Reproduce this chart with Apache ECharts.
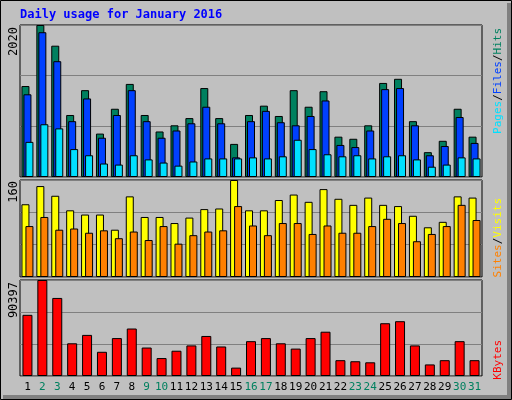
<!DOCTYPE html>
<html><head><meta charset="utf-8">
<script src="https://cdn.jsdelivr.net/npm/echarts@6/dist/echarts.min.js"></script>
<style>html,body{margin:0;padding:0;background:#fff}#c{width:512px;height:400px}</style>
</head><body><div id="c"></div>
<script>
const days = ['1','2','3','4','5','6','7','8','9','10','11','12','13','14','15','16','17','18','19','20','21','22','23','24','25','26','27','28','29','30','31'];
const weekend = ['2','3','9','10','16','17','23','24','30','31'];
const hits  = [1209,2020,1745,824,1154,577,907,1237,824,605,687,783,1182,783,440,824,948,811,1154,934,1140,536,508,687,1250,1305,742,330,481,907,536];
const files = [1099,1924,1539,742,1044,522,824,1154,742,522,618,714,934,714,261,742,879,728,687,811,1017,426,398,618,1168,1182,687,289,412,797,453];
const pages = [467,701,646,371,289,179,165,289,234,192,151,206,247,247,247,261,247,275,495,371,302,275,289,247,275,289,234,137,165,261,247];
const visits= [120,150,134,110,103,103,78,133,99,99,89,98,112,113,160,110,110,127,136,124,145,129,119,131,119,117,101,82,91,133,131];
const sites = [84,99,78,80,73,77,64,75,61,84,55,69,75,77,117,85,69,89,89,71,85,73,73,84,96,89,59,71,84,119,94];
const kbytes= [57600,90397,73500,30800,38700,22800,35700,44700,26800,16900,23800,28800,37700,27800,7900,32800,35700,30800,25800,35700,41700,14900,13900,12900,49700,51600,28800,10900,14900,32800,14900];
const maxTop = 2020, maxMid = 160, maxBot = 90397;

const chart = echarts.init(document.getElementById('c'));
const mono = 'DejaVu Sans Mono';
const grids = [
  {left:20,right:30,top:25,height:152},
  {left:20,right:30,top:180,height:97},
  {left:20,right:30,top:280,height:96}
];
grids.forEach(g=>{g.show=true;g.backgroundColor='#C0C0C0';g.borderColor='#000';g.borderWidth=1;});
function xa(i,show){return {type:'category',gridIndex:i,data:days,axisTick:{show:false},axisLine:{show:false},
  axisLabel:{show:show,interval:0,fontFamily:mono,fontSize:11,margin:6,color:(v)=>weekend.includes(v)?'#00805F':'#000'}};}
function ya(i,max){return {type:'value',gridIndex:i,min:0,max:max,interval:max/3,axisLabel:{show:false},axisLine:{show:false},axisTick:{show:false},
  splitLine:{lineStyle:{color:'#808080',width:1}}};}
const bs = {borderColor:'#000',borderWidth:1};
function bar(name,data,color,xi,w,gap){return {name,type:'bar',xAxisIndex:xi,yAxisIndex:xi,data,barWidth:w,barGap:gap,
  itemStyle:Object.assign({color},bs),animation:false,silent:true};}
const vt = (txt,x,y)=>({type:'text',x,y,rotation:Math.PI/2,style:{text:txt,font:'12px '+mono,fill:'#000',align:'right',verticalAlign:'middle'}});
const rf = '11px '+mono;
chart.setOption({
  backgroundColor:'#C0C0C0',
  grid:grids,
  xAxis:[xa(0,false),xa(1,false),xa(2,true)],
  yAxis:[ya(0,maxTop),ya(1,maxMid),ya(2,maxBot)],
  series:[
    bar('Hits',hits,'#00805F',0,8,'-75%'),
    bar('Files',files,'#0040FF',0,8,'-75%'),
    bar('Pages',pages,'#00E0FF',0,8,'-75%'),
    bar('Visits',visits,'#FFFF00',1,8,'-50%'),
    bar('Sites',sites,'#FF8000',1,8,'-50%'),
    bar('KBytes',kbytes,'#FF0000',2,10,'0%')
  ],
  graphic:[
    {type:'rect',shape:{x:0.5,y:0.5,width:511,height:399},style:{fill:'none',stroke:'#000',lineWidth:1}},
    {type:'rect',shape:{x:507,y:3,width:4,height:396},style:{fill:'#808080'}},
    {type:'rect',shape:{x:3,y:395,width:508,height:4},style:{fill:'#808080'}},
    {type:'text',x:20,y:15,style:{text:'Daily usage for January 2016',font:'bold 12px '+mono,fill:'#0000FF',verticalAlign:'middle'}},
    vt(String(maxTop),14,27),
    vt(String(maxMid),14,181),
    vt(String(maxBot),14,282),
    {type:'text',x:498,y:28,rotation:Math.PI/2,style:{rich:{p:{fill:'#00E0FF',font:rf},f:{fill:'#0040FF',font:rf},h:{fill:'#00805F',font:rf},s:{fill:'#000',font:rf}},
      text:'{p|Pages}{s|/}{f|Files}{s|/}{h|Hits}',align:'right',verticalAlign:'middle'}},
    {type:'text',x:498,y:198,rotation:Math.PI/2,style:{rich:{a:{fill:'#FF8000',font:rf},b:{fill:'#FFFF00',font:rf},s:{fill:'#000',font:rf}},
      text:'{a|Sites}{s|/}{b|Visits}',align:'right',verticalAlign:'middle'}},
    {type:'text',x:498,y:340,rotation:Math.PI/2,style:{text:'KBytes',font:rf,fill:'#FF0000',align:'right',verticalAlign:'middle'}}
  ]
});
</script></body></html>
